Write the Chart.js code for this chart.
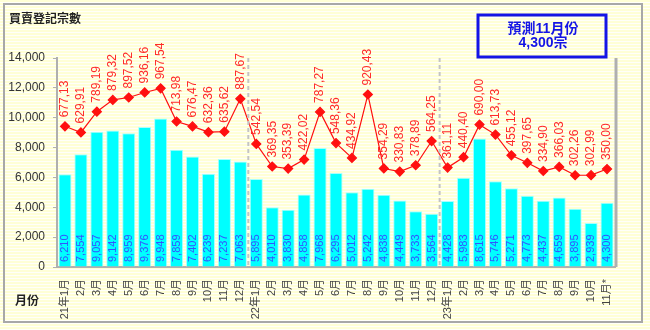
<!DOCTYPE html>
<html>
<head>
<meta charset="utf-8">
<script src="https://cdn.jsdelivr.net/npm/chart.js@4/dist/chart.umd.min.js"></script>
<style>
  html, body { margin: 0; padding: 0; background: #fff; }
  #wrap { width: 650px; height: 330px; position: relative; }
</style>
</head>
<body>
<div id="wrap"><canvas id="chart"></canvas></div>
<script>
// monthly labels, 2021-01 to 2023-11 (last month is a forecast)
const months = [
    '21年1月','2月','3月','4月','5月','6月','7月','8月','9月','10月','11月','12月',
    '22年1月','2月','3月','4月','5月','6月','7月','8月','9月','10月','11月','12月',
    '23年1月','2月','3月','4月','5月','6月','7月','8月','9月','10月','11月*'
];
// registrations count (bars)
const counts = [
    6210, 7554, 9057, 9142, 8959, 9376, 9948, 7859, 7402, 6239, 7237, 7063,
    5895, 4010, 3830, 4858, 7968, 6295, 5012, 5242, 4838, 4449, 3733, 3564,
    4428, 5983, 8615, 5746, 5271, 4773, 4437, 4659, 3895, 2939, 4300
];
// registrations value (line)
const amounts = [
    677.13, 629.91, 789.19, 879.32, 897.52, 936.16, 967.54, 713.98, 676.47, 632.36, 635.62, 887.67,
    542.54, 369.35, 353.39, 422.02, 787.27, 548.36, 434.92, 920.43, 354.29, 330.83, 378.89, 564.25,
    361.11, 440.40, 690.00, 613.73, 455.12, 397.65, 334.90, 366.03, 302.26, 302.99, 350.00
];
const yTicks = [0, 2000, 4000, 6000, 8000, 10000, 12000, 14000];
const yearStarts = [12, 24];

const FONT = '"Liberation Sans", "Noto Sans CJK TC", sans-serif';

// striped pale yellow backdrop + frame
const backdrop = {
    id: 'backdrop',
    beforeDraw(chart) {
        const { ctx, width, height } = chart;
        ctx.save();
        for (let y = 0; y < height; y += 3) {
            ctx.fillStyle = '#ffffd6';
            ctx.fillRect(0, y, width, 2);
            ctx.fillStyle = '#fffffa';
            ctx.fillRect(0, y + 2, width, 1);
        }
        ctx.strokeStyle = '#a8a8a8';
        ctx.lineWidth = 2;
        ctx.strokeRect(4, 4, 638, 318);
        ctx.restore();
    }
};

const extras = {
    id: 'extras',
    afterDatasetsDraw(chart) {
        const { ctx, chartArea } = chart;
        const xs = chart.scales.x;
        ctx.save();

        // right edge of plot
        ctx.strokeStyle = '#b0b0b0';
        ctx.lineWidth = 3;
        ctx.beginPath();
        ctx.moveTo(chartArea.right + 1, chartArea.top);
        ctx.lineTo(chartArea.right + 1, chartArea.bottom);
        ctx.stroke();

        // year separators
        ctx.strokeStyle = '#c4c4c4';
        ctx.lineWidth = 2;
        ctx.setLineDash([4, 3]);
        yearStarts.forEach(i => {
            const x = (xs.getPixelForValue(i - 1) + xs.getPixelForValue(i)) / 2;
            ctx.beginPath();
            ctx.moveTo(x, chartArea.top);
            ctx.lineTo(x, chartArea.bottom);
            ctx.stroke();
        });
        ctx.setLineDash([]);

        // bar value labels, vertical at bar base
        const barMeta = chart.getDatasetMeta(0);
        ctx.font = '11px ' + FONT;
        ctx.fillStyle = '#3355ff';
        ctx.textAlign = 'left';
        ctx.textBaseline = 'middle';
        barMeta.data.forEach((bar, i) => {
            ctx.save();
            ctx.translate(bar.x, chartArea.bottom - 5);
            ctx.rotate(-Math.PI / 2);
            ctx.fillText(counts[i].toLocaleString('en-US'), 0, 0);
            ctx.restore();
        });

        // line value labels above markers
        const lineMeta = chart.getDatasetMeta(1);
        ctx.fillStyle = '#ff2a2a';
        ctx.font = '12px ' + FONT;
        lineMeta.data.forEach((pt, i) => {
            ctx.save();
            ctx.translate(pt.x, pt.y - 9);
            ctx.rotate(-Math.PI / 2);
            ctx.fillText(amounts[i].toFixed(2).replace('.', ','), 0, 0);
            ctx.restore();
        });

        // titles
        ctx.fillStyle = '#222';
        ctx.font = 'bold 12px ' + FONT;
        ctx.textAlign = 'left';
        ctx.fillText('買賣登記宗數', 9, 20);
        ctx.fillText('月份', 15, 302);

        // forecast box
        ctx.strokeStyle = '#1414e6';
        ctx.lineWidth = 3;
        ctx.strokeRect(478, 15, 128, 42);
        ctx.fillStyle = '#1414e6';
        ctx.font = 'bold 14px ' + FONT;
        ctx.textAlign = 'center';
        ctx.fillText('預測11月份', 543, 29);
        ctx.fillText('4,300宗', 543, 43);

        ctx.restore();
    }
};

const ctx = document.getElementById('chart').getContext('2d');
const chart = new Chart(ctx, {
    type: 'bar',
    data: {
        labels: months,
        datasets: [
            {
                type: 'bar',
                label: '宗數',
                data: counts,
                backgroundColor: '#00ffff',
                borderColor: '#a8ffff',
                borderWidth: 1,
                categoryPercentage: 0.82,
                barPercentage: 1,
                yAxisID: 'y',
                order: 2
            },
            {
                type: 'line',
                label: '金額',
                data: amounts,
                borderColor: '#ff1010',
                backgroundColor: '#ff1010',
                borderWidth: 1.2,
                pointStyle: 'rectRot',
                pointRadius: 4.5,
                pointHoverRadius: 4.5,
                tension: 0,
                yAxisID: 'y1',
                order: 1
            }
        ]
    },
    options: {
        responsive: true,
        maintainAspectRatio: false,
        animation: false,
        layout: { padding: { top: 58, right: 35, left: 0, bottom: 0 } },
        plugins: {
            legend: { display: false },
            tooltip: { enabled: false }
        },
        scales: {
            x: {
                grid: { display: false },
                border: { color: '#b0b0b0', width: 2 },
                ticks: {
                    autoSkip: false,
                    minRotation: 90,
                    maxRotation: 90,
                    padding: 4,
                    color: '#444',
                    font: { size: 11, family: FONT }
                },
                afterFit: scale => { scale.height = 63; }
            },
            y: {
                min: 0,
                max: 14000,
                afterBuildTicks: scale => { scale.ticks = yTicks.map(v => ({ value: v })); },
                grid: { drawOnChartArea: false, drawTicks: true, tickLength: 4, color: '#b0b0b0' },
                border: { color: '#b0b0b0', width: 2 },
                ticks: {
                    padding: 8,
                    color: '#333',
                    font: { size: 12, family: FONT },
                    callback: v => v.toLocaleString('en-US')
                },
                afterFit: scale => { scale.width = 57; }
            },
            y1: {
                display: false,
                min: -400,
                max: 1200
            }
        }
    },
    plugins: [backdrop, extras]
});
</script>
</body>
</html>
